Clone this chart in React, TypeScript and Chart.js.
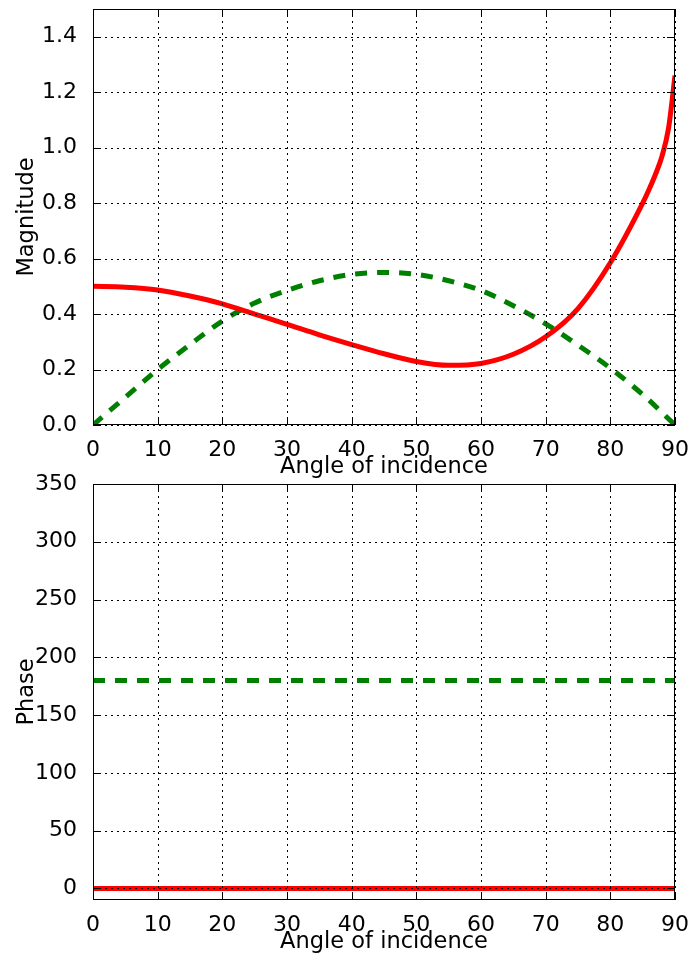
import React, { useEffect, useRef } from "react";
import { Chart, registerables } from "chart.js";

Chart.register(...registerables);

// Magnitude curves (angle in degrees)
const SOLID_ANGLES = [0, 5, 10, 15, 20, 25, 30, 35, 40, 45, 50, 55, 60, 65, 70, 75, 80, 85, 86, 87, 88, 89, 90];
const MAG_SOLID = [0.5, 0.497, 0.487, 0.465, 0.437, 0.4, 0.363, 0.325, 0.29, 0.257, 0.229, 0.215, 0.222, 0.255, 0.318, 0.42, 0.585, 0.8, 0.85, 0.905, 0.97, 1.07, 1.26];
const DASHED_ANGLES = [0, 5, 10, 15, 20, 25, 30, 35, 40, 45, 50, 55, 60, 65, 70, 75, 80, 85, 90];
const MAG_DASHED = [0, 0.1, 0.2, 0.29, 0.375, 0.44, 0.485, 0.52, 0.543, 0.55, 0.543, 0.52, 0.485, 0.43, 0.365, 0.288, 0.205, 0.11, 0];

// Phase curves
const PHASE_ANGLES = [0, 90];
const PHASE_SOLID = [0, 0];
const PHASE_DASHED = [180, 180];

// Axis ticks
const X_TICKS = [0, 10, 20, 30, 40, 50, 60, 70, 80, 90];
const MAG_TICKS = [0, 0.2, 0.4, 0.6, 0.8, 1.0, 1.2, 1.4];
const PHASE_TICKS = [0, 50, 100, 150, 200, 250, 300, 350];

const FONT = "'DejaVu Sans', sans-serif";
const TEXT = "#000";
const TICK_SIZE = 22;
const TITLE_SIZE = 22.5;

const toPoints = (xs: number[], ys: number[]) => xs.map((x, i) => ({ x, y: ys[i] }));

// Dotted grid over the data, a full frame, and inward tick marks on all four sides
const framePlugin = {
  id: "mplFrame",
  afterDatasetsDraw(chart: any) {
    const { ctx, chartArea: a, scales } = chart;
    const xs = scales.x;
    const ys = scales.y;
    const line = (x1: number, y1: number, x2: number, y2: number) => {
      ctx.beginPath();
      ctx.moveTo(x1, y1);
      ctx.lineTo(x2, y2);
      ctx.stroke();
    };
    ctx.save();
    ctx.strokeStyle = "#000";
    ctx.lineWidth = 1;
    ctx.setLineDash([2, 4]);
    xs.ticks.forEach((t: any) => {
      const px = Math.round(xs.getPixelForValue(t.value)) + 0.5;
      line(px, a.top, px, a.bottom);
    });
    ys.ticks.forEach((t: any) => {
      const py = Math.round(ys.getPixelForValue(t.value)) + 0.5;
      line(a.left, py, a.right, py);
    });
    ctx.setLineDash([]);
    const TL = 8;
    xs.ticks.forEach((t: any) => {
      const px = Math.round(xs.getPixelForValue(t.value)) + 0.5;
      line(px, a.bottom, px, a.bottom - TL);
      line(px, a.top, px, a.top + TL);
    });
    ys.ticks.forEach((t: any) => {
      const py = Math.round(ys.getPixelForValue(t.value)) + 0.5;
      line(a.left, py, a.left + TL, py);
      line(a.right, py, a.right - TL, py);
    });
    ctx.strokeRect(Math.round(a.left) + 0.5, Math.round(a.top) + 0.5, Math.round(a.width) - 1, Math.round(a.height) - 1);
    ctx.restore();
  },
};

type PanelSpec = {
  padTop: number;
  xAxisHeight: number;
  titleBottom: number;
  yTitle: string;
  yMin: number;
  yMax: number;
  yTicks: number[];
  yFormat: (v: number) => string;
  datasets: any[];
};

// Tick labels may overhang the plot box, so the scales report no extra padding
const noOverhang = (s: any) => {
  s.paddingTop = 0;
  s.paddingBottom = 0;
  s.paddingLeft = 0;
  s.paddingRight = 0;
};

function buildConfig(p: PanelSpec): any {
  const tickFont = { family: FONT, size: TICK_SIZE };
  const titleFont = { family: FONT, size: TITLE_SIZE };
  return {
    type: "line",
    data: { datasets: p.datasets },
    options: {
      responsive: false,
      animation: false,
      events: [],
      layout: { padding: { top: p.padTop, right: 13, bottom: 0, left: 0 } },
      plugins: { legend: { display: false }, tooltip: { enabled: false } },
      scales: {
        x: {
          type: "linear",
          min: 0,
          max: 90,
          afterBuildTicks: (s: any) => {
            s.ticks = X_TICKS.map((v) => ({ value: v }));
          },
          afterFit: (s: any) => {
            s.height = p.xAxisHeight;
            noOverhang(s);
          },
          grid: { display: false },
          border: { display: false },
          ticks: { autoSkip: false, maxRotation: 0, padding: 4, color: TEXT, font: tickFont, callback: (v: any) => String(v) },
          title: { display: true, text: "Angle of incidence", color: TEXT, font: titleFont, padding: { top: 0, bottom: p.titleBottom } },
        },
        y: {
          type: "linear",
          min: p.yMin,
          max: p.yMax,
          afterBuildTicks: (s: any) => {
            s.ticks = p.yTicks.map((v) => ({ value: v }));
          },
          afterFit: (s: any) => {
            s.width = 93;
            noOverhang(s);
          },
          grid: { display: false },
          border: { display: false },
          ticks: { autoSkip: false, padding: 8, color: TEXT, font: tickFont, callback: (v: any) => p.yFormat(Number(v)) },
          title: { display: true, text: p.yTitle, color: TEXT, font: titleFont, padding: { top: 14, bottom: 0 } },
        },
      },
    },
    plugins: [framePlugin],
  };
}

const solidStyle = {
  borderColor: "#ff0000",
  borderWidth: 5,
  pointRadius: 0,
  fill: false,
  cubicInterpolationMode: "monotone",
  clip: 0,
};
const dashedStyle = {
  borderColor: "#008000",
  borderWidth: 5,
  borderDash: [12, 10],
  borderCapStyle: "butt",
  pointRadius: 0,
  fill: false,
  cubicInterpolationMode: "monotone",
  clip: 0,
};

function Panel({ top, height, spec }: { top: number; height: number; spec: PanelSpec }) {
  const ref = useRef<HTMLCanvasElement | null>(null);
  useEffect(() => {
    if (!ref.current) return;
    const chart = new Chart(ref.current, buildConfig(spec));
    return () => chart.destroy();
  }, []);
  return (
    <canvas
      ref={ref}
      width={688}
      height={height}
      style={{ position: "absolute", left: 0, top, width: 688, height, display: "block" }}
    />
  );
}

export default function App() {
  Chart.defaults.font.family = FONT;
  const magnitude: PanelSpec = {
    padTop: 9,
    xAxisHeight: 55,
    titleBottom: -1,
    yTitle: "Magnitude",
    yMin: 0,
    yMax: 1.5,
    yTicks: MAG_TICKS,
    yFormat: (v) => v.toFixed(1),
    datasets: [
      { ...solidStyle, data: toPoints(SOLID_ANGLES, MAG_SOLID) },
      { ...dashedStyle, data: toPoints(DASHED_ANGLES, MAG_DASHED) },
    ],
  };
  const phase: PanelSpec = {
    padTop: 24,
    xAxisHeight: 56,
    titleBottom: 0,
    yTitle: "Phase",
    yMin: -10,
    yMax: 350,
    yTicks: PHASE_TICKS,
    yFormat: (v) => String(v),
    datasets: [
      { ...solidStyle, data: toPoints(PHASE_ANGLES, PHASE_SOLID) },
      { ...dashedStyle, data: toPoints(PHASE_ANGLES, PHASE_DASHED) },
    ],
  };
  return (
    <div style={{ position: "absolute", left: 0, top: 0, width: 688, height: 956, background: "#fff" }}>
      <Panel top={0} height={480} spec={magnitude} />
      <Panel top={460} height={496} spec={phase} />
    </div>
  );
}
